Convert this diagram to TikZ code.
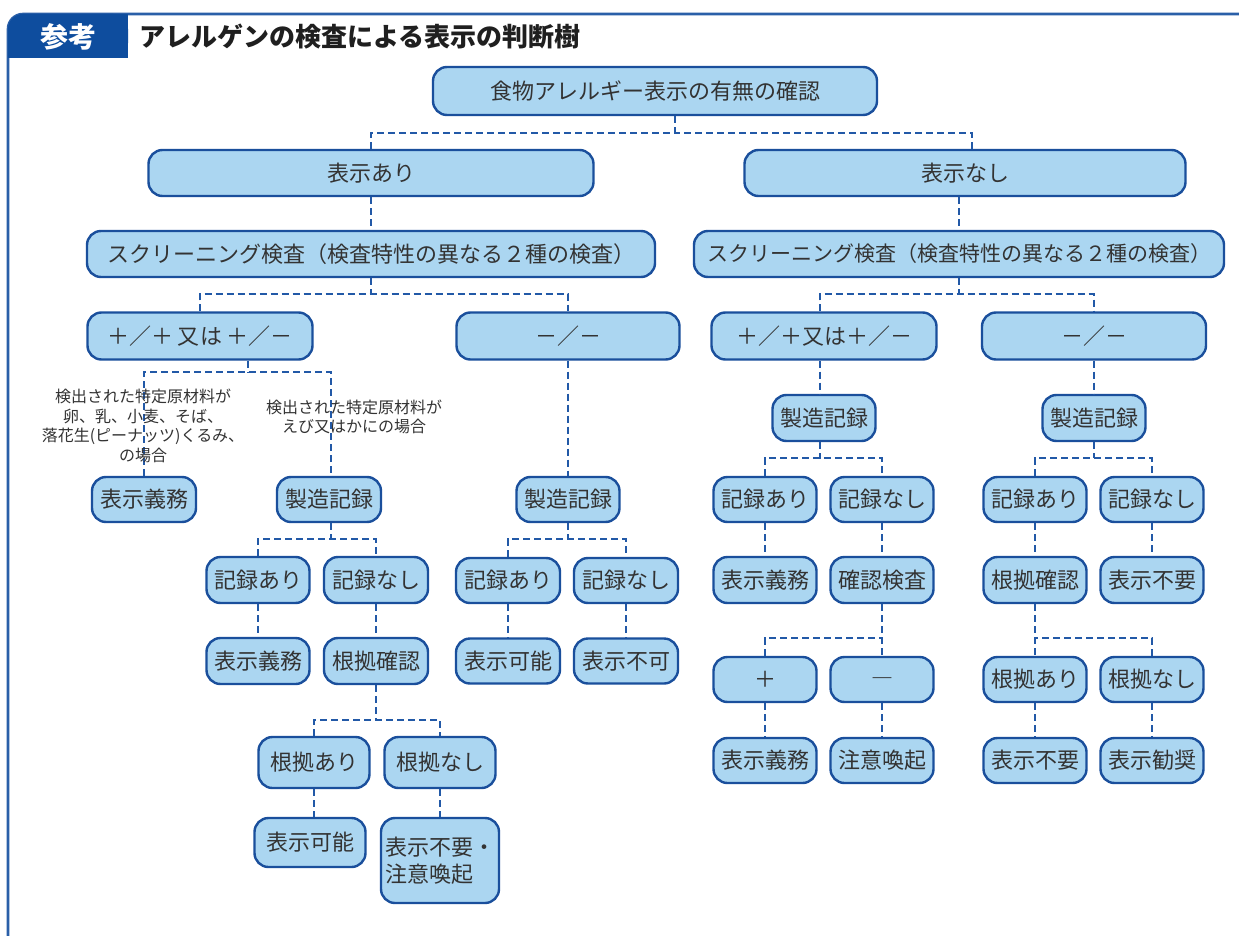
\documentclass[tikz,border=0pt]{standalone}
\usepackage{fontspec}
\setmainfont{Noto Sans CJK JP}
\usetikzlibrary{calc}
\definecolor{boxfill}{HTML}{ABD6F1}
\definecolor{boxline}{HTML}{1A4F9C}
\definecolor{connc}{HTML}{2259A7}
\definecolor{framec}{HTML}{2A5FA8}
\definecolor{tabc}{HTML}{0E4D9E}
\definecolor{txt}{HTML}{333333}
\tikzset{
  box/.style={draw=boxline, line width=2.4pt, fill=boxfill, rounded corners=14pt,
    inner sep=0pt, text=txt, font=\fontsize{22}{27}\selectfont, align=center},
  sbox/.style={box, minimum width=103pt, minimum height=46pt},
  conn/.style={draw=connc, line width=2pt, dash pattern=on 7pt off 4pt},
  lbl/.style={text=txt, font=\fontsize{16}{19.5}\selectfont, align=center, inner sep=0pt}
}
\begin{document}
\begin{tikzpicture}[x=1pt,y=-1pt]
\fill[white] (0,0) rectangle (1239,936);
\useasboundingbox (0,0) rectangle (1239,936);
% frame and tab
\draw[framec, line width=2.6pt, rounded corners=15pt] (8,937) -- (8,14) -- (1240,14);
\fill[tabc, rounded corners=15pt] (8,14) rectangle (128,58);
\fill[tabc] (8,30) rectangle (128,58);
\fill[tabc] (24,14) rectangle (128,58);
\node[text=white, font=\fontsize{28}{32}\bfseries\selectfont] (sanko) at (68,37) {参考};
\node[anchor=west, text=black!88, font=\fontsize{26}{30}\bfseries\selectfont] (title) at (136,37) {アレルゲンの検査による表示の判断樹};

% top levels
\node[box, minimum width=444pt, minimum height=48pt] (root) at (655,91) {食物アレルギー表示の有無の確認};
\node[box, minimum width=445pt, minimum height=46pt] (ari) at (371,173) {表示あり};
\node[box, minimum width=441pt, minimum height=46pt] (nashi) at (965,173) {表示なし};
\node[box, minimum width=568pt, minimum height=46pt] (scrL) at (371,254) {スクリーニング検査（検査特性の異なる２種の検査）};
\node[box, minimum width=530pt, minimum height=46pt, font=\fontsize{21}{26}\selectfont] (scrR) at (959,254) {スクリーニング検査（検査特性の異なる２種の検査）};
\node[box, minimum width=225pt, minimum height=47pt] (ppL) at (200,336) {＋／＋ 又は ＋／－};
\node[box, minimum width=223pt, minimum height=47pt] (mmL) at (568,336) {－／－};
\node[box, minimum width=225pt, minimum height=47pt] (ppR) at (824,336) {＋／＋又は＋／－};
\node[box, minimum width=224pt, minimum height=47pt] (mmR) at (1094,336) {－／－};

% left column
\node[sbox, minimum width=104pt, minimum height=45pt] (gimL) at (144,499.5) {表示義務};
\node[sbox, minimum width=104pt, minimum height=45pt] (seiL) at (329,499.5) {製造記録};
\node[sbox] (kaL) at (258,580) {記録あり};
\node[sbox, minimum width=104pt] (knL) at (376,580) {記録なし};
\node[sbox] (gim2L) at (258,661) {表示義務};
\node[sbox, minimum width=104pt] (konL) at (376,661) {根拠確認};
\node[box, minimum width=111pt, minimum height=51pt] (kyaL) at (314,762.5) {根拠あり};
\node[box, minimum width=111pt, minimum height=51pt] (kynL) at (440,762.5) {根拠なし};
\node[box, minimum width=111pt, minimum height=49pt] (kanL) at (310,842.5) {表示可能};
\node[box, minimum width=118pt, minimum height=85pt, align=left] (fuyoL) at (440,860.5) {表示不要・\\注意喚起};

% middle column
\node[sbox, minimum height=45pt] (seiM) at (568,499.5) {製造記録};
\node[sbox, minimum width=104pt, minimum height=45pt] (kaM) at (508,580.5) {記録あり};
\node[sbox, minimum width=104pt, minimum height=45pt] (knM) at (626,580.5) {記録なし};
\node[sbox, minimum width=104pt, minimum height=45pt] (kanM) at (508,661) {表示可能};
\node[sbox, minimum width=104pt, minimum height=45pt] (fukaM) at (626,661) {表示不可};

% right-left column
\node[sbox] (seiR1) at (824,418) {製造記録};
\node[sbox, minimum height=45pt] (kaR1) at (765,499.5) {記録あり};
\node[sbox, minimum height=45pt] (knR1) at (882,499.5) {記録なし};
\node[sbox] (gimR1) at (765,580) {表示義務};
\node[sbox] (kakuR1) at (882,580) {確認検査};
\node[sbox, minimum height=45pt] (plusR) at (765,679.5) {＋};
\node[sbox, minimum height=45pt, text height=11pt, text depth=11pt] (minusR) at (882,679.5) {\raisebox{-7pt}{―}};
\node[sbox, minimum height=45pt] (gimR2) at (765,760.5) {表示義務};
\node[sbox, minimum height=45pt] (chuiR) at (882,760.5) {注意喚起};

% right-right column
\node[sbox] (seiR2) at (1094,418) {製造記録};
\node[sbox, minimum height=45pt] (kaR2) at (1035,499.5) {記録あり};
\node[sbox, minimum height=45pt] (knR2) at (1152,499.5) {記録なし};
\node[sbox] (konR2) at (1035,580) {根拠確認};
\node[sbox] (fuyoR2) at (1152,580) {表示不要};
\node[sbox, minimum height=45pt] (kyaR2) at (1035,679.5) {根拠あり};
\node[sbox, minimum height=45pt] (kynR2) at (1152,679.5) {根拠なし};
\node[sbox, minimum height=45pt] (fuyoR3) at (1035,760.5) {表示不要};
\node[sbox, minimum height=45pt] (kanshoR) at (1152,760.5) {表示勧奨};

% connectors
\coordinate (j0) at (675,133);
\draw[conn] (root.south -| j0) -- (j0);
\draw[conn] (ari.north) |- (j0);
\draw[conn] ([xshift=7pt]nashi.north) |- (j0);
\draw[conn] (ari.south) -- (ari.south |- scrL.north);
\draw[conn] (scrR.north |- nashi.south) -- (scrR.north);
\coordinate (j1) at (371,294);
\draw[conn] (scrL.south -| j1) -- (j1);
\draw[conn] (ppL.north) |- (j1) -| (mmL.north);
\coordinate (j2) at (959,294);
\draw[conn] (scrR.south) -- (j2);
\draw[conn] ([xshift=-4pt]ppR.north) |- (j2) -| (mmR.north);

\coordinate (j3) at (248,372);
\draw[conn] (ppL.south -| j3) -- (j3);
\draw[conn] (gimL.north) |- (j3) -| ([xshift=2pt]seiL.north);
\coordinate (j4) at (331,539);
\draw[conn] (seiL.south -| j4) -- (j4);
\draw[conn] (kaL.north) |- (j4) -| (knL.north);
\draw[conn] (kaL.south) -- (gim2L.north);
\draw[conn] (knL.south) -- (konL.north);
\coordinate (j5) at (376,720);
\draw[conn] (konL.south) -- (j5);
\draw[conn] (kyaL.north) |- (j5) -| (kynL.north);
\draw[conn] (kyaL.south) -- (kyaL.south |- kanL.north);
\draw[conn] (kynL.south) -- (kynL.south |- fuyoL.north);

\draw[conn] (mmL.south) -- (seiM.north);
\coordinate (j6) at (568,539);
\draw[conn] (seiM.south) -- (j6);
\draw[conn] (kaM.north) |- (j6) -| (knM.north);
\draw[conn] (kaM.south) -- (kanM.north);
\draw[conn] (knM.south) -- (fukaM.north);

\draw[conn] ([xshift=-4pt]ppR.south) -- ([xshift=-4pt]seiR1.north);
\coordinate (j7) at (820,458);
\draw[conn] ([xshift=-4pt]seiR1.south) -- (j7);
\draw[conn] (kaR1.north) |- (j7) -| (knR1.north);
\draw[conn] (kaR1.south) -- (gimR1.north);
\draw[conn] (knR1.south) -- (kakuR1.north);
\coordinate (j8) at (882,638);
\draw[conn] (kakuR1.south) -- (j8) -- (minusR.north);
\draw[conn] (plusR.north) |- (j8);
\draw[conn] (plusR.south) -- (gimR2.north);
\draw[conn] (minusR.south) -- (chuiR.north);

\draw[conn] (mmR.south) -- (seiR2.north);
\coordinate (j9) at (1094,458);
\draw[conn] (seiR2.south) -- (j9);
\draw[conn] (kaR2.north) |- (j9) -| (knR2.north);
\draw[conn] (kaR2.south) -- (konR2.north);
\draw[conn] (knR2.south) -- (fuyoR2.north);
\coordinate (j10) at (1035,638);
\draw[conn] (konR2.south) -- (j10) -- (kyaR2.north);
\draw[conn] (kynR2.north) |- (j10);
\draw[conn] (kyaR2.south) -- (fuyoR3.north);
\draw[conn] (kynR2.south) -- (kanshoR.north);

% labels
\node[lbl] (labA) at (143,426) {検出された特定原材料が\\卵、乳、小麦、そば、\\落花生(ピーナッツ)くるみ、\\の場合};
\node[lbl] (labB) at (354,417) {検出された特定原材料が\\えび又はかにの場合};
\end{tikzpicture}
\end{document}
